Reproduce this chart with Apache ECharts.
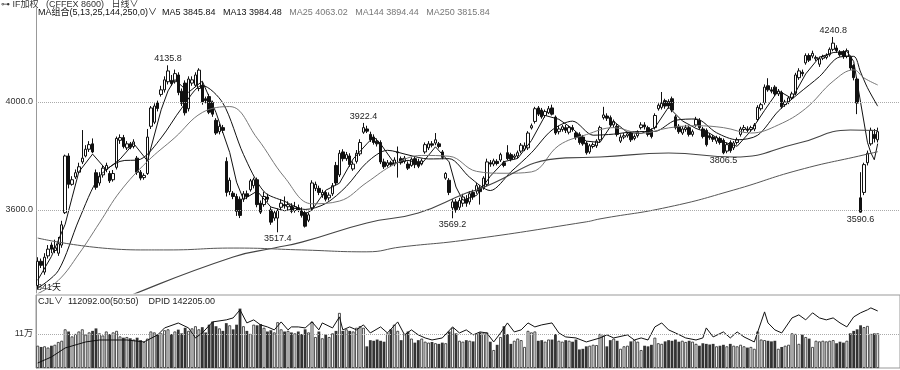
<!DOCTYPE html>
<html><head><meta charset="utf-8">
<script src="https://cdn.jsdelivr.net/npm/echarts@6/dist/echarts.min.js"></script>
<style>html,body{margin:0;padding:0;background:#fff}#c{width:900px;height:370px}</style>
</head><body><div id="c"></div>
<script>
// ---- data ----
const opens = [3320,3410,3370,3430,3470,3450,3440,3470,3590,3800,
3695,3722,3740,3778,3800,3825,3845,3738,3700,3730,
3750,3735,3712,3758,3858,3868,3830,3845,3835,3792,
3740,3720,3735,3910,3925,3998,4028,4045,4075,4080,
4075,4100,4040,4070,3975,4070,4062,4050,4062,4012,
4020,3998,3932,3890,3905,3780,3668,3662,3650,3640,
3640,3660,3675,3690,3712,3625,3620,3648,3600,3570,
3570,3610,3620,3612,3615,3598,3608,3598,3590,3562,
3608,3680,3680,3655,3665,3645,3660,3765,3730,3815,
3790,3800,3752,3780,3808,3888,3900,3880,3870,3855,
3850,3778,3765,3775,3770,3812,3790,3780,3770,3765,
3790,3780,3770,3815,3830,3845,3848,3845,3815,3718,
3710,3608,3630,3610,3625,3640,3630,3665,3670,3682,
3682,3695,3775,3770,3780,3785,3775,3812,3805,3795,
3800,3818,3825,3830,3904,3928,3978,3970,3950,3960,
3978,3944,3890,3898,3905,3888,3905,3885,3880,3870,
3848,3815,3835,3838,3860,3942,3948,3942,3915,3910,
3855,3870,3875,3885,3865,3875,3905,3915,3905,3895,
3905,3975,3980,4005,4002,4012,3945,3910,3885,3898,
3905,3880,3915,3932,3900,3895,3875,3870,3855,3865,
3858,3818,3850,3830,3850,3880,3898,3900,3898,3900,
3935,3975,3998,4060,4045,4055,4030,4035,3990,4000,
4015,4032,4090,4110,4145,4172,4170,4160,4140,4162,
4165,4175,4195,4200,4185,4185,4170,4166,4135,4085,
3645,3665,3775,3845,3880,3860];
const highs = [3425,3420,3440,3470,3480,3490,3500,3560,3805,3810,
3725,3750,3775,3896,3840,3855,3865,3750,3740,3765,
3775,3745,3748,3872,3880,3878,3855,3852,3862,3800,
3748,3736,3900,3985,3995,4005,4060,4095,4135.8,4100,
4120,4110,4050,4080,4095,4095,4110,4125,4075,4020,
4030,4005,3940,3920,3915,3795,3720,3670,3660,3650,
3670,3672,3715,3720,3720,3635,3668,3660,3610,3600,
3605,3640,3650,3632,3625,3630,3620,3610,3598,3590,
3710,3705,3690,3675,3672,3665,3700,3778,3822,3825,
3815,3810,3780,3822,3862,3922.4,3912,3890,3880,3865,
3858,3790,3785,3782,3795,3835,3798,3800,3780,3795,
3800,3790,3790,3850,3855,3855,3885,3852,3822,3740,
3718,3640,3640,3645,3660,3655,3670,3675,3700,3692,
3725,3790,3785,3790,3788,3812,3782,3840,3812,3808,
3820,3848,3850,3892,3920,3982,3985,3978,3972,3985,
3990,3950,3912,3915,3915,3912,3915,3892,3888,3878,
3855,3845,3850,3862,3912,3982,3958,3950,3935,3918,
3880,3885,3890,3892,3880,3895,3925,3925,3912,3902,
3958,3995,4037,4012,4010,4020,3952,3918,3910,3915,
3912,3898,3945,3940,3908,3902,3885,3878,3875,3872,
3865,3850,3858,3855,3868,3908,3915,3910,3912,3922,
3988,3998,4065,4088,4055,4062,4048,4042,4008,4022,
4038,4108,4125,4120,4180,4180,4190,4172,4168,4175,
4180,4202,4240.8,4210,4192,4192,4198,4172,4140,4092,
3740,3775,3820,3905,3900,3905];
const lows = [3305,3385,3360,3420,3440,3440,3430,3460,3585,3680,
3690,3715,3735,3770,3795,3815,3810,3675,3690,3720,
3740,3700,3705,3750,3845,3828,3822,3825,3828,3730,
3710,3712,3730,3900,3918,3965,4020,4035,4065,4060,
4068,4025,3985,3950,3965,4060,4055,4040,3990,3995,
3955,3945,3878,3880,3885,3650,3655,3640,3578,3570,
3630,3640,3668,3680,3610,3585,3612,3630,3545,3560,
3517.4,3600,3605,3600,3588,3590,3592,3572,3535,3555,
3600,3670,3655,3645,3632,3635,3652,3692,3722,3780,
3782,3760,3745,3772,3800,3882,3885,3852,3842,3835,
3770,3752,3758,3760,3762,3720,3768,3772,3748,3760,
3755,3755,3765,3808,3822,3832,3840,3828,3788,3712,
3655,3569.2,3590,3600,3612,3612,3620,3638,3660,3620,
3675,3688,3760,3762,3765,3778,3758,3785,3780,3788,
3792,3810,3818,3822,3898,3920,3948,3938,3942,3955,
3950,3878,3880,3890,3885,3880,3890,3860,3842,3838,
3805,3808,3828,3830,3852,3935,3930,3908,3905,3872,
3848,3862,3868,3852,3858,3868,3898,3898,3872,3865,
3898,3968,3972,3975,3975,3962,3898,3882,3878,3890,
3872,3872,3908,3898,3865,3835,3860,3852,3845,3842,
3806.5,3810,3812,3822,3842,3872,3890,3888,3890,3892,
3928,3968,3990,4038,4032,4022,4022,3975,3982,3992,
4008,4025,4082,4095,4138,4148,4162,4152,4130,4155,
4158,4168,4188,4182,4168,4160,4162,4118,4080,3955,
3590.6,3655,3765,3838,3850,3850];
const closes = [3410,3395,3425,3455,3455,3460,3475,3545,3800,3695,
3712,3738,3760,3792,3825,3842,3815,3684,3725,3755,
3765,3708,3735,3865,3868,3835,3845,3832,3852,3740,
3718,3728,3870,3978,3985,3976,4045,4082,4115,4068,
4105,4035,3995,3960,4085,4082,4100,4118,4000,4005,
3962,3955,3885,3910,3895,3665,3710,3650,3595,3580,
3660,3650,3708,3712,3620,3592,3650,3640,3555,3590,
3598,3625,3615,3620,3595,3612,3600,3580,3540,3582,
3700,3695,3665,3665,3640,3655,3690,3700,3810,3790,
3805,3768,3770,3810,3850,3905,3892,3860,3850,3845,
3778,3760,3775,3768,3785,3815,3775,3792,3755,3788,
3768,3762,3782,3842,3845,3840,3860,3835,3795,3735,
3665,3630,3602,3635,3648,3625,3660,3648,3690,3668,
3718,3778,3770,3782,3772,3805,3765,3790,3788,3800,
3812,3840,3838,3885,3912,3975,3955,3945,3965,3975,
3955,3885,3900,3908,3895,3905,3898,3868,3850,3845,
3812,3838,3842,3855,3905,3952,3940,3915,3928,3880,
3870,3875,3882,3860,3872,3888,3915,3908,3880,3872,
3950,3988,3995,3985,3985,3970,3905,3890,3900,3905,
3880,3890,3935,3905,3872,3842,3868,3862,3868,3850,
3812,3842,3820,3848,3860,3900,3905,3895,3905,3915,
3980,3990,4055,4045,4040,4030,4040,3982,4000,4015,
4030,4100,4115,4105,4172,4155,4180,4165,4160,4168,
4172,4195,4218,4190,4175,4168,4190,4126,4090,3996,
3592,3768,3810,3895,3865,3890];
// volume, thousands of contracts
const volumes = [72,68,70,66,72,75,84,88,125,118,
102,110,118,125,108,115,120,128,112,105,
118,110,115,120,102,98,100,96,92,98,
90,84,95,118,115,108,112,122,125,110,
118,124,112,130,120,128,135,125,132,115,
140,150,135,128,120,145,138,125,140,192,
135,120,110,140,138,142,130,118,122,115,
148,125,118,120,115,112,118,110,125,115,
150,100,118,96,108,100,112,120,178,120,
125,120,118,130,135,130,70,90,88,92,
88,85,112,125,140,120,90,110,118,95,
82,90,95,85,82,84,80,78,82,80,
118,130,112,88,85,90,88,86,110,115,
112,115,85,58,75,100,135,110,78,88,
95,90,68,120,115,118,88,90,85,92,
92,110,88,85,90,88,85,92,60,62,
70,72,75,74,110,105,70,90,95,88,
62,70,72,86,90,85,58,72,70,75,
98,80,78,86,90,88,92,85,88,84,
88,85,78,72,80,78,76,78,70,72,
75,70,78,72,70,75,70,66,68,62,
118,92,90,88,86,88,62,68,72,75,
112,110,78,108,100,95,68,88,86,88,
86,88,90,80,85,82,88,112,120,125,
138,132,136,110,112,112.092];
// moving averages: [bar index, value]
const ma5 = [[0,3340],[4,3428],[8,3547],[10,3645],[12,3741],[16,3807],[20,3749],[24,3788],[28,3846],[32,3782],[36,3971],[38,4041],[40,4083],[44,4036],[48,4077],[52,3961],[56,3813],[58,3703],[60,3639],[64,3670],[68,3611],[72,3597],[76,3608],[78,3585],[80,3600],[84,3673],[88,3699],[92,3789],[96,3845],[98,3871],[100,3845],[104,3773],[108,3784],[112,3771],[116,3834],[120,3778],[122,3685],[124,3636],[128,3654],[132,3725],[136,3779],[140,3791],[144,3857],[148,3950],[152,3936],[156,3901],[160,3855],[164,3850],[168,3928],[172,3887],[176,3883],[180,3905],[184,3981],[188,3930],[192,3902],[196,3884],[200,3852],[204,3836],[208,3893],[212,3969],[216,4042],[220,4013],[224,4104],[228,4166],[232,4183],[236,4188],[238,4150],[240,3999],[242,3851],[243,3812],[244,3786],[245,3845.84]];
const ma13 = [[0,3310],[6,3375],[12,3563],[18,3724],[24,3780],[30,3788],[36,3867],[42,3977],[48,4061],[54,3996],[60,3806],[66,3668],[72,3632],[78,3602],[84,3624],[90,3687],[96,3776],[102,3821],[108,3804],[114,3789],[120,3790],[126,3721],[132,3672],[138,3741],[144,3812],[150,3896],[156,3929],[162,3877],[168,3881],[174,3890],[180,3891],[186,3932],[192,3937],[198,3886],[204,3860],[210,3877],[216,3966],[222,4032],[228,4094],[234,4167],[238,4169],[240,4111],[242,4053],[245,3984.48]];
const ma25 = [[0,3290],[6,3339],[12,3437],[18,3552],[24,3668],[32,3780],[40,3868],[48,3961],[56,3983],[64,3866],[72,3721],[80,3623],[88,3633],[96,3702],[104,3769],[112,3802],[120,3799],[128,3743],[136,3736],[144,3741],[152,3839],[160,3879],[168,3905],[176,3884],[184,3904],[192,3912],[200,3905],[208,3885],[216,3915],[224,3976],[232,4077],[238,4119],[241,4089],[245,4063.02]];
const ma144 = [[18,3230],[26,3278],[57,3426],[69,3459],[77,3481],[96,3552],[111,3589],[125,3663],[128,3674],[154,3793],[164,3796],[184,3811],[203,3796],[222,3848],[237,3896],[245,3894.44]];
const ma250 = [[0,3496],[30,3452],[38,3452],[57,3459],[77,3452],[96,3445],[106,3463],[125,3489],[160,3556],[164,3567],[184,3611],[203,3674],[222,3748],[241,3804],[245,3815.84]];
const dpid = [[0,80900],[4,88000],[8,98600],[14,105700],[18,108000],[26,108000],[31,105700],[35,114000],[37,122200],[41,128000],[44,122200],[46,110400],[48,116300],[51,129300],[55,131700],[57,134000],[59,143500],[61,128100],[63,131700],[65,125800],[67,123400],[69,119900],[71,129300],[73,119900],[74,123400],[76,123400],[78,122200],[80,129300],[82,119900],[83,128100],[86,122200],[88,135200],[89,119900],[91,123400],[93,119900],[95,125800],[97,116300],[100,123400],[102,116300],[105,129300],[107,114000],[109,119900],[111,114000],[113,110400],[115,108000],[118,110400],[121,123400],[123,116300],[125,119900],[127,114000],[129,117500],[131,116300],[133,105700],[135,116300],[137,128100],[139,117500],[141,119900],[143,128100],[145,123400],[147,125800],[150,128100],[152,116300],[154,111600],[157,110400],[160,105700],[164,110400],[166,114000],[168,110400],[172,114000],[174,108000],[176,110400],[178,108000],[180,123400],[182,128100],[184,119900],[186,116300],[189,110400],[192,108000],[194,110400],[195,122200],[197,111600],[200,117500],[202,110400],[204,117500],[206,111600],[209,105700],[211,129300],[212,141100],[213,128100],[215,119900],[217,116300],[220,134000],[222,137600],[224,131700],[226,140000],[228,134000],[230,131700],[232,134000],[234,128100],[236,123400],[238,135200],[240,140000],[242,143500],[243,145800],[245,142205]];
const priceTicks = [3600, 4000];
const volTicks = [110];
const extremes = [[38,'top'],[95,'top'],[232,'top'],[70,'bottom'],[121,'bottom'],[200,'bottom'],[240,'bottom']];
const dayCountLabel = '841天';

// ---- chart ----
const FONT = '"Liberation Sans","Noto Sans CJK SC",sans-serif';
const N = closes.length;
const cats = Array.from({length: N + 6}, (_, i) => String(i));
const candle = closes.map((c, i) => [opens[i], c, lows[i], highs[i]]);
const lastOf = a => a[a.length - 1][1];
const volBars = volumes.map((v, i) => ({
  value: v,
  itemStyle: closes[i] >= opens[i] ? {color: '#fff', borderColor: '#222', borderWidth: 0.8} : {color: '#333'}
}));
const lineS = (name, data, color, width, smooth) => ({
  name, type: 'line', xAxisIndex: 0, yAxisIndex: 0, data, symbol: 'none', smooth,
  lineStyle: {color, width}, z: 4, silent: true
});
const chart = echarts.init(document.getElementById('c'), null, {renderer: 'canvas', width: 900, height: 370});
chart.setOption({
  animation: false,
  backgroundColor: '#fff',
  textStyle: {fontFamily: FONT},
  grid: [
    {left: 36, right: -1, top: 8, height: 285},
    {left: 36, right: -1, top: 295, height: 73, show: true, borderColor: '#999', borderWidth: 1, backgroundColor: 'transparent'}
  ],
  xAxis: [
    {type: 'category', gridIndex: 0, data: cats, boundaryGap: true, show: false},
    {type: 'category', gridIndex: 1, data: cats, boundaryGap: true, show: false}
  ],
  yAxis: [
    {type: 'value', gridIndex: 0, min: 3292.5, max: 4348.1, scale: true,
      axisLine: {show: true, lineStyle: {color: '#999'}}, axisTick: {show: false}, splitLine: {show: false},
      axisLabel: {customValues: priceTicks, formatter: v => v.toFixed(1), fontSize: 9, color: '#333', margin: 3, fontFamily: FONT}},
    {type: 'value', gridIndex: 1, min: 0, max: 236,
      axisLine: {show: true, lineStyle: {color: '#999'}}, axisTick: {show: false}, splitLine: {show: false},
      axisLabel: {customValues: volTicks, formatter: v => (v / 10) + '万', fontSize: 9, color: '#333', margin: 3, fontFamily: FONT}},
    {type: 'value', gridIndex: 1, min: 75000, max: 161000, show: false}
  ],
  series: [
    {type: 'candlestick', xAxisIndex: 0, yAxisIndex: 0, data: candle, barWidth: 3, z: 2, silent: true,
      itemStyle: {color: '#fff', color0: '#111', borderColor: '#111', borderColor0: '#111', borderWidth: 1},
      markLine: {silent: true, symbol: ['none', 'none'], label: {show: false},
        lineStyle: {type: 'dotted', color: '#aaa', width: 1}, data: priceTicks.map(v => ({yAxis: v}))},
      markPoint: {symbol: 'circle', symbolSize: 0, silent: true,
        label: {show: true, color: '#222', fontSize: 9, distance: 2, fontFamily: FONT, formatter: p => p.value.toFixed(1)},
        data: extremes.map(([i, pos]) => {
          const v = pos === 'top' ? highs[i] : lows[i];
          return {coord: [i, v], value: v, label: {position: pos}};
        })}
    },
    lineS('MA5', ma5, '#111', 1, false),
    lineS('MA13', ma13, '#111', 1, 0.3),
    lineS('MA25', ma25, '#777', 1, 0.4),
    lineS('MA144', ma144, '#444', 1.1, 0.5),
    lineS('MA250', ma250, '#555', 1, 0.5),
    {type: 'bar', xAxisIndex: 1, yAxisIndex: 1, data: volBars, barWidth: 2.8, silent: true, z: 2,
      markLine: {silent: true, symbol: ['none', 'none'], label: {show: false},
        lineStyle: {type: 'dotted', color: '#aaa', width: 1}, data: volTicks.map(v => ({yAxis: v}))}},
    {type: 'line', xAxisIndex: 1, yAxisIndex: 2, data: dpid, symbol: 'none', lineStyle: {color: '#111', width: 1}, z: 4, silent: true}
  ],
  graphic: [
    {type: 'text', left: 1, top: 0, silent: true,
      style: {text: '⊶ IF加权   (CFFEX 8600)   日线∨', fontSize: 9, fill: '#333', fontFamily: FONT}},
    {type: 'text', left: 38, top: 8, silent: true,
      style: {
        text: '{k|MA组合(5,13,25,144,250,0)∨}  {a|MA5 ' + lastOf(ma5).toFixed(2) + '}   {a|MA13 ' + lastOf(ma13).toFixed(2) +
          '}   {g|MA25 ' + lastOf(ma25).toFixed(2) + '}   {g|MA144 ' + lastOf(ma144).toFixed(2) + '}   {g|MA250 ' + lastOf(ma250).toFixed(2) + '}',
        fontSize: 9, fontFamily: FONT,
        rich: {k: {fill: '#111', fontSize: 9, fontFamily: FONT}, a: {fill: '#111', fontSize: 9, fontFamily: FONT}, g: {fill: '#777', fontSize: 9, fontFamily: FONT}}
      }},
    {type: 'text', left: 37, top: 283, silent: true,
      style: {text: dayCountLabel, fontSize: 9, fill: '#111', fontFamily: FONT}},
    {type: 'text', left: 38, top: 297, silent: true,
      style: {text: 'CJL∨  ' + (volumes[N - 1] * 1000).toFixed(2) + '(50:50)    DPID ' + lastOf(dpid).toFixed(2),
        fontSize: 9, fill: '#222', fontFamily: FONT}}
  ]
});
</script>
</body></html>
